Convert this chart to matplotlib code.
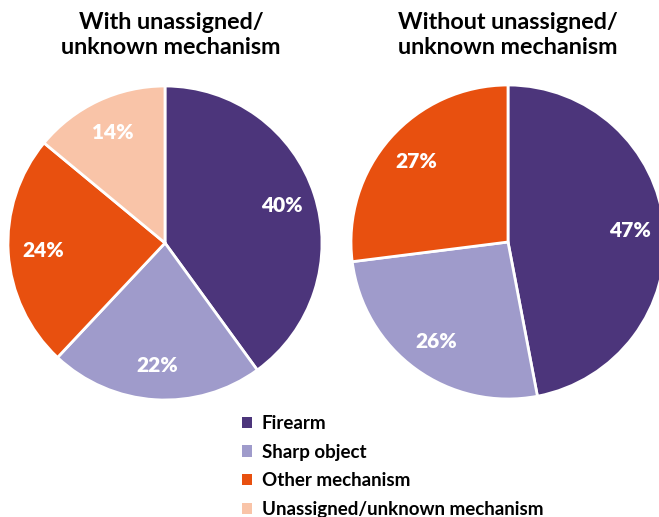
import matplotlib
matplotlib.use("Agg")
import matplotlib.pyplot as plt
from matplotlib.patches import Patch

plt.rcParams['font.family'] = ['Lato', 'DejaVu Sans']

categories = ["Firearm", "Sharp object", "Other mechanism", "Unassigned/unknown mechanism"]
colors = ["#4C357B", "#9F9BCB", "#E8500F", "#F9C4A8"]
with_unknown = [40, 22, 24, 14]
without_unknown = [47, 26, 27]
titles = ["With unassigned/\nunknown mechanism", "Without unassigned/\nunknown mechanism"]

W, H = 659, 517
fig = plt.figure(figsize=(W / 100, H / 100), dpi=100)

def add_pie(rect, values, cols):
    ax = fig.add_axes(rect)
    wedges, texts, autotexts = ax.pie(
        values, colors=cols, startangle=90, counterclock=False,
        autopct=lambda p: f"{p:.0f}%", pctdistance=0.78,
        wedgeprops=dict(edgecolor="white", linewidth=2),
        textprops=dict(color="white", fontsize=15, fontweight="heavy"))
    ax.set_xlim(-1, 1)
    ax.set_ylim(-1, 1)
    ax.set_aspect("equal")
    ax.axis("off")
    return ax

def rect_px(cx, cy, r):
    return [(cx - r) / W, (H - cy - r) / H, 2 * r / W, 2 * r / H]

add_pie(rect_px(165, 243, 157), with_unknown, colors)
add_pie(rect_px(508, 242, 157), without_unknown, colors[:3])

fig.text(171 / W, 1 - 35 / H, titles[0], ha="center", va="center",
         fontsize=16.8, fontweight="bold", linespacing=1.25)
fig.text(508 / W, 1 - 35 / H, titles[1], ha="center", va="center",
         fontsize=16.8, fontweight="bold", linespacing=1.25)

handles = [Patch(facecolor=c, edgecolor="none") for c in colors]
fig.legend(handles, categories, loc="upper left",
           bbox_to_anchor=(242 / W, 1 - 415 / H), frameon=False,
           prop=dict(size=13.5, weight="bold"), handlelength=0.55, handleheight=0.55,
           handletextpad=0.5, labelspacing=0.62, borderpad=0, borderaxespad=0)

fig.savefig("out.png", dpi=100)
